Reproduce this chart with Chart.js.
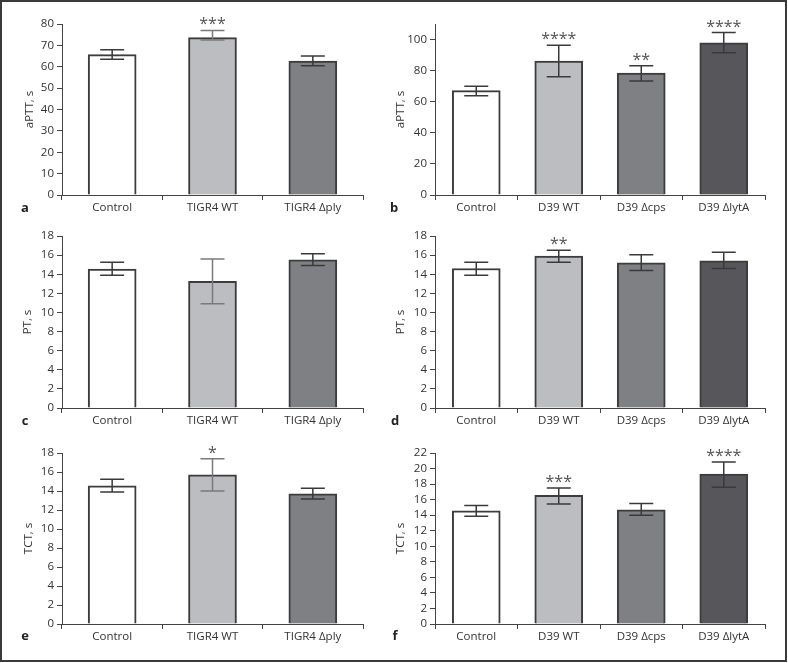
<!DOCTYPE html>
<html>
<head>
<meta charset="utf-8">
<script src="https://cdn.jsdelivr.net/npm/chart.js@4/dist/chart.umd.min.js"></script>
<style>
  body { margin: 0; background: #fff; }
  #page { position: relative; width: 788px; height: 663px; }
  #frame { position: absolute; left: 0; top: 0; width: 787px; height: 662px; border: 2px solid #3a3a3a; box-sizing: border-box; }
  canvas { position: absolute; }
  .tag { position: absolute; font: bold 13px "Open Sans", sans-serif; color: #222; transform: translate(-50%, -50%); }
</style>
</head>
<body>
<div id="page">
  <div id="frame"></div>
  <canvas id="pa" width="394" height="218" style="left:0;top:0"></canvas>
  <canvas id="pb" width="394" height="218" style="left:394px;top:0"></canvas>
  <canvas id="pc" width="394" height="216" style="left:0;top:218px"></canvas>
  <canvas id="pd" width="394" height="216" style="left:394px;top:218px"></canvas>
  <canvas id="pe" width="394" height="226" style="left:0;top:434px"></canvas>
  <canvas id="pf" width="394" height="226" style="left:394px;top:434px"></canvas>
  <div class="tag" style="left:25px;top:207px">a</div>
  <div class="tag" style="left:394px;top:207px">b</div>
  <div class="tag" style="left:25px;top:420px">c</div>
  <div class="tag" style="left:395px;top:420px">d</div>
  <div class="tag" style="left:25px;top:635px">e</div>
  <div class="tag" style="left:395px;top:635px">f</div>
</div>
<script>
// categories
const catsTIGR4 = ['Control', 'TIGR4 WT', 'TIGR4 Δply'];
const catsD39 = ['Control', 'D39 WT', 'D39 Δcps', 'D39 ΔlytA'];

// a: aPTT, TIGR4
const aVals = [65.7, 73.6, 62.6];
const aLo = [63.5, 72.5, 60.5];
const aHi = [68.0, 77.0, 65.0];
const aSig = ['', '***', ''];

// b: aPTT, D39
const bVals = [67.1, 86.1, 78.4, 97.9];
const bLo = [63.9, 76.1, 73.3, 91.5];
const bHi = [69.9, 96.4, 83.1, 104.5];
const bSig = ['', '****', '**', '****'];

// c: PT, TIGR4
const cVals = [14.55, 13.25, 15.5];
const cLo = [13.9, 10.9, 14.9];
const cHi = [15.25, 15.6, 16.15];
const cSig = ['', '', ''];

// d: PT, D39
const dVals = [14.6, 15.9, 15.2, 15.4];
const dLo = [13.9, 15.25, 14.4, 14.6];
const dHi = [15.25, 16.5, 16.05, 16.3];
const dSig = ['', '**', '', ''];

// e: TCT, TIGR4
const eVals = [14.55, 15.7, 13.7];
const eLo = [13.9, 14.0, 13.15];
const eHi = [15.25, 17.4, 14.3];
const eSig = ['', '*', ''];

// f: TCT, D39
const fVals = [14.55, 16.55, 14.7, 19.3];
const fLo = [13.85, 15.45, 14.0, 17.6];
const fHi = [15.25, 17.5, 15.5, 20.85];
const fSig = ['', '***', '', '****'];

// y axis ticks: min, max, step, (last labelled)
const ticksA = [0, 80, 10];
const ticksB = [0, 110, 20, 100];
const ticksPT = [0, 18, 2];
const ticksTCTe = [0, 18, 2];
const ticksTCTf = [0, 22, 2];

const fills = ['#ffffff', '#bcbdc1', '#7f8084', '#57575b'];
const axisColor = '#444';

Chart.defaults.font.family = '"Open Sans", sans-serif';
Chart.defaults.font.size = 11.5;
Chart.defaults.color = '#333';

const errorBars = {
  id: 'errorBars',
  afterDatasetsDraw(chart) {
    const ctx = chart.ctx;
    const ds = chart.data.datasets[0];
    const ys = chart.scales.y;
    chart.getDatasetMeta(0).data.forEach((bar, i) => {
      const x = bar.x;
      const half = bar.width / 4;
      const top = ys.getPixelForValue(ds.errHi[i]);
      const bot = ys.getPixelForValue(ds.errLo[i]);
      ctx.save();
      ctx.strokeStyle = ds.errColors[i];
      ctx.lineWidth = 1.5;
      ctx.beginPath();
      ctx.moveTo(x, top); ctx.lineTo(x, bot);
      ctx.moveTo(x - half, top); ctx.lineTo(x + half, top);
      ctx.moveTo(x - half, bot); ctx.lineTo(x + half, bot);
      ctx.stroke();
      if (ds.sig[i]) {
        ctx.fillStyle = '#555';
        ctx.font = '16px "Open Sans", sans-serif';
        ctx.textAlign = 'center';
        ctx.textBaseline = 'alphabetic';
        ctx.fillText(ds.sig[i], x, top - 1);
      }
      ctx.restore();
    });
  }
};

function panel(id, cats, vals, lo, hi, sig, ticks, title, pad, yWidth, xHeight, leftCol) {
  const errColors = cats.map((c, i) => (leftCol && i === 1) ? '#7a7a7a' : '#3a3a3a');
  new Chart(document.getElementById(id), {
    type: 'bar',
    data: {
      labels: cats,
      datasets: [{
        data: vals,
        errLo: lo,
        errHi: hi,
        sig: sig,
        errColors: errColors,
        backgroundColor: fills.slice(0, cats.length),
        borderColor: '#3c3c3c',
        borderWidth: 2,
        borderSkipped: 'bottom',
        barThickness: 48
      }]
    },
    options: {
      responsive: false,
      animation: false,
      layout: { padding: pad },
      plugins: { legend: { display: false }, tooltip: { enabled: false } },
      scales: {
        x: {
          grid: { display: true, drawOnChartArea: false, offset: true, tickLength: 5, color: axisColor },
          border: { display: true, color: axisColor, width: 1 },
          ticks: { padding: 1, maxRotation: 0, autoSkip: false, color: '#333' },
          afterFit: s => { s.height = xHeight; }
        },
        y: {
          min: ticks[0],
          max: ticks[1],
          grid: { display: true, drawOnChartArea: false, tickLength: 5, color: axisColor },
          border: { display: true, color: axisColor, width: 1 },
          ticks: { stepSize: ticks[2], padding: 3, autoSkip: false, color: '#333' },
          title: { display: true, text: title, color: '#333', padding: { top: 0, bottom: 0 } },
          afterBuildTicks: s => {
            if (ticks[3] !== undefined) s.ticks = s.ticks.filter(t => t.value <= ticks[3]);
          },
          afterFit: s => { s.width = yWidth; }
        }
      }
    },
    plugins: [errorBars]
  });
}

panel('pa', catsTIGR4, aVals, aLo, aHi, aSig, ticksA, 'aPTT, s', { left: 23, top: 24, right: 31, bottom: 0 }, 39, 23, true);
panel('pb', catsD39, bVals, bLo, bHi, bSig, ticksB, 'aPTT, s', { left: 0, top: 24, right: 23, bottom: 0 }, 41, 23, false);
panel('pc', catsTIGR4, cVals, cLo, cHi, cSig, ticksPT, 'PT, s', { left: 21, top: 18, right: 31, bottom: 0 }, 41, 26, true);
panel('pd', catsD39, dVals, dLo, dHi, dSig, ticksPT, 'PT, s', { left: 0, top: 18, right: 23, bottom: 0 }, 41, 26, false);
panel('pe', catsTIGR4, eVals, eLo, eHi, eSig, ticksTCTe, 'TCT, s', { left: 22, top: 19, right: 31, bottom: 0 }, 40, 36, true);
panel('pf', catsD39, fVals, fLo, fHi, fSig, ticksTCTf, 'TCT, s', { left: 0, top: 19, right: 23, bottom: 0 }, 41, 36, false);
</script>
</body>
</html>
